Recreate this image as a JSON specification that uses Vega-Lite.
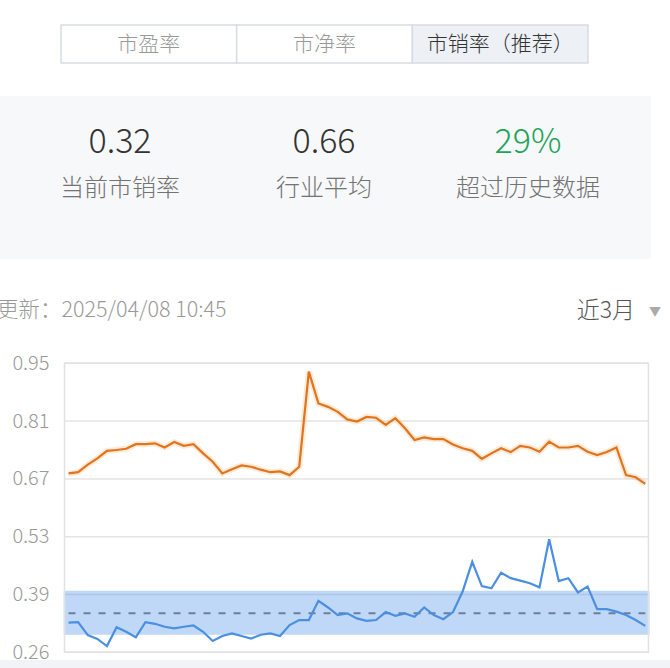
{
  "$schema": "https://vega.github.io/schema/vega-lite/v6.json",
  "width": 670,
  "height": 668,
  "autosize": {"type": "none"},
  "padding": 0,
  "background": "#ffffff",
  "config": {"view": {"stroke": null}, "font": "Noto Sans CJK SC"},
  "datasets": {
    "tabs": [
      {"tab": "市盈率", "selected": false},
      {"tab": "市净率", "selected": false},
      {"tab": "市销率（推荐）", "selected": true}
    ],
    "stats": [
      {"item": "当前市销率", "row": "数值", "text": "0.32"},
      {"item": "行业平均", "row": "数值", "text": "0.66"},
      {"item": "超过历史数据", "row": "数值", "text": "29%"},
      {"item": "当前市销率", "row": "名称", "text": "当前市销率"},
      {"item": "行业平均", "row": "名称", "text": "行业平均"},
      {"item": "超过历史数据", "row": "名称", "text": "超过历史数据"}
    ],
    "band": [{"low": 0.302, "high": 0.407, "mean": 0.353}],
    "ticks": [{"tick": 0.26}, {"tick": 0.398}, {"tick": 0.536}, {"tick": 0.674}, {"tick": 0.812}, {"tick": 0.95}],
    "history": [
      {"day": 0, "行业平均": 0.687, "市销率": 0.331},
      {"day": 1, "行业平均": 0.690, "市销率": 0.332},
      {"day": 2, "行业平均": 0.708, "市销率": 0.301},
      {"day": 3, "行业平均": 0.723, "市销率": 0.292},
      {"day": 4, "行业平均": 0.741, "市销率": 0.275},
      {"day": 5, "行业平均": 0.743, "市销率": 0.320},
      {"day": 6, "行业平均": 0.746, "市销率": 0.309},
      {"day": 7, "行业平均": 0.757, "市销率": 0.296},
      {"day": 8, "行业平均": 0.757, "市销率": 0.332},
      {"day": 9, "行业平均": 0.759, "市销率": 0.328},
      {"day": 10, "行业平均": 0.749, "市销率": 0.321},
      {"day": 11, "行业平均": 0.762, "市销率": 0.317},
      {"day": 12, "行业平均": 0.753, "市销率": 0.321},
      {"day": 13, "行业平均": 0.757, "市销率": 0.324},
      {"day": 14, "行业平均": 0.735, "市销率": 0.309},
      {"day": 15, "行业平均": 0.715, "市销率": 0.287},
      {"day": 16, "行业平均": 0.687, "市销率": 0.299},
      {"day": 17, "行业平均": 0.697, "市销率": 0.305},
      {"day": 18, "行业平均": 0.706, "市销率": 0.299},
      {"day": 19, "行业平均": 0.703, "市销率": 0.293},
      {"day": 20, "行业平均": 0.696, "市销率": 0.302},
      {"day": 21, "行业平均": 0.690, "市销率": 0.305},
      {"day": 22, "行业平均": 0.692, "市销率": 0.299},
      {"day": 23, "行业平均": 0.683, "市销率": 0.325},
      {"day": 24, "行业平均": 0.703, "市销率": 0.337},
      {"day": 25, "行业平均": 0.930, "市销率": 0.337},
      {"day": 26, "行业平均": 0.854, "市销率": 0.383},
      {"day": 27, "行业平均": 0.846, "市销率": 0.367},
      {"day": 28, "行业平均": 0.834, "市销率": 0.349},
      {"day": 29, "行业平均": 0.816, "市销率": 0.353},
      {"day": 30, "行业平均": 0.811, "市销率": 0.341},
      {"day": 31, "行业平均": 0.822, "市销率": 0.335},
      {"day": 32, "行业平均": 0.820, "市销率": 0.337},
      {"day": 33, "行业平均": 0.803, "市销率": 0.356},
      {"day": 34, "行业平均": 0.819, "市销率": 0.347},
      {"day": 35, "行业平均": 0.795, "市销率": 0.353},
      {"day": 36, "行业平均": 0.767, "市销率": 0.345},
      {"day": 37, "行业平均": 0.773, "市销率": 0.367},
      {"day": 38, "行业平均": 0.769, "市销率": 0.349},
      {"day": 39, "行业平均": 0.769, "市销率": 0.339},
      {"day": 40, "行业平均": 0.756, "市销率": 0.356},
      {"day": 41, "行业平均": 0.747, "市销率": 0.405},
      {"day": 42, "行业平均": 0.741, "市销率": 0.476},
      {"day": 43, "行业平均": 0.722, "市销率": 0.418},
      {"day": 44, "行业平均": 0.735, "市销率": 0.413},
      {"day": 45, "行业平均": 0.747, "市销率": 0.450},
      {"day": 46, "行业平均": 0.738, "市销率": 0.437},
      {"day": 47, "行业平均": 0.753, "市销率": 0.431},
      {"day": 48, "行业平均": 0.749, "市销率": 0.425},
      {"day": 49, "行业平均": 0.739, "市销率": 0.415},
      {"day": 50, "行业平均": 0.763, "市销率": 0.530},
      {"day": 51, "行业平均": 0.749, "市销率": 0.430},
      {"day": 52, "行业平均": 0.749, "市销率": 0.437},
      {"day": 53, "行业平均": 0.753, "市销率": 0.403},
      {"day": 54, "行业平均": 0.739, "市销率": 0.417},
      {"day": 55, "行业平均": 0.731, "市销率": 0.363},
      {"day": 56, "行业平均": 0.738, "市销率": 0.363},
      {"day": 57, "行业平均": 0.749, "市销率": 0.357},
      {"day": 58, "行业平均": 0.683, "市销率": 0.349},
      {"day": 59, "行业平均": 0.678, "市销率": 0.337},
      {"day": 60, "行业平均": 0.662, "市销率": 0.323}
    ]
  },
  "resolve": {
    "scale": {"x": "independent", "y": "independent", "color": "independent"},
    "axis": {"x": "independent", "y": "independent"}
  },
  "layer": [
    {
      "data": {"values": [{"panel": "stats"}]},
      "mark": {"type": "rect", "fill": "#f7f8fa"},
      "encoding": {"x": {"value": 0}, "x2": {"value": 651}, "y": {"value": 96}, "y2": {"value": 259}}
    },
    {
      "data": {"values": [{"panel": "footer"}]},
      "mark": {"type": "rect", "fill": "#f1f3f6"},
      "encoding": {"x": {"value": 0}, "x2": {"value": 670}, "y": {"value": 660}, "y2": {"value": 668}}
    },
    {
      "data": {"name": "tabs"},
      "mark": {"type": "rect", "stroke": "#d8dce2", "strokeWidth": 1.5},
      "encoding": {
        "x": {"field": "tab", "type": "nominal", "sort": null, "scale": {"domain": ["市盈率", "市净率", "市销率（推荐）"], "range": [61, 588], "paddingInner": 0, "paddingOuter": 0}, "axis": null},
        "y": {"value": 25},
        "y2": {"value": 63},
        "fill": {"condition": {"test": "datum.selected", "value": "#edf0f5"}, "value": "#ffffff"}
      }
    },
    {
      "data": {"name": "tabs"},
      "mark": {"type": "text", "fontSize": 21, "baseline": "middle", "fontWeight": 300},
      "encoding": {
        "x": {"field": "tab", "type": "nominal", "sort": null, "scale": {"domain": ["市盈率", "市净率", "市销率（推荐）"], "range": [61, 588], "paddingInner": 0, "paddingOuter": 0}, "axis": null},
        "y": {"value": 45},
        "text": {"field": "tab"},
        "color": {"condition": {"test": "datum.selected", "value": "#333333"}, "value": "#999999"}
      }
    },
    {
      "data": {"name": "stats"},
      "mark": {"type": "text", "baseline": "middle", "fontWeight": 300},
      "encoding": {
        "x": {"field": "item", "type": "nominal", "sort": null, "scale": {"domain": ["当前市销率", "行业平均", "超过历史数据"], "range": [18, 630], "paddingInner": 0, "paddingOuter": 0}, "axis": null},
        "y": {"field": "row", "type": "nominal", "scale": {"type": "point", "domain": ["数值", "名称"], "range": [143, 189], "padding": 0}, "axis": null},
        "text": {"field": "text"},
        "size": {"condition": {"test": "datum.row === '名称'", "value": 24}, "value": 34},
        "color": {
          "condition": [
            {"test": "datum.row === '名称'", "value": "#737373"},
            {"test": "datum.item === '超过历史数据'", "value": "#1fa45a"}
          ],
          "value": "#333333"
        }
      }
    },
    {
      "data": {"values": [{"text": "更新：2025/04/08 10:45"}]},
      "mark": {"type": "text", "align": "left", "baseline": "middle", "fontSize": 21.5, "fontWeight": 300, "color": "#999999"},
      "encoding": {"x": {"value": -3}, "y": {"value": 311}, "text": {"field": "text"}}
    },
    {
      "data": {"values": [{"text": "近3月"}]},
      "mark": {"type": "text", "align": "right", "baseline": "middle", "fontSize": 23, "fontWeight": 300, "color": "#555555"},
      "encoding": {"x": {"value": 635}, "y": {"value": 311}, "text": {"field": "text"}}
    },
    {
      "data": {"values": [{"text": "▼"}]},
      "mark": {"type": "text", "align": "center", "baseline": "middle", "fontSize": 12, "color": "#aaaaaa"},
      "encoding": {"x": {"value": 655}, "y": {"value": 312}, "text": {"field": "text"}}
    },
    {
      "resolve": {"scale": {"x": "shared", "y": "shared"}},
      "layer": [
        {
          "data": {"name": "ticks"},
          "mark": {"type": "rule", "stroke": "#e4e4e4", "strokeWidth": 1.5},
          "encoding": {
            "x": {"datum": -0.42, "type": "quantitative", "scale": {"domain": [-0.45, 60.4], "range": [64.2, 649.1], "nice": false, "zero": false}, "axis": null},
            "x2": {"datum": 60.33},
            "y": {
              "field": "tick", "type": "quantitative",
              "scale": {"domain": [0.26, 0.95], "range": [652.3, 363.3], "nice": false, "zero": false},
              "axis": {
                "values": [0.26, 0.398, 0.536, 0.674, 0.812, 0.95],
                "labelExpr": "substring(toString(datum.value) + '000', 0, 4)",
                "grid": false, "domain": false, "ticks": false,
                "labelPadding": 0, "offset": -49, "labelFlush": false,
                "labelFontSize": 20, "labelFontWeight": 300, "labelColor": "#999999", "labelFont": "Noto Sans CJK SC",
                "title": null
              }
            }
          }
        },
        {
          "data": {"name": "band"},
          "mark": {"type": "rect", "fill": "#3f8ae8", "opacity": 0.33},
          "encoding": {
            "x": {"datum": -0.5, "type": "quantitative", "scale": {"domain": [-0.45, 60.4], "range": [64.2, 649.1], "nice": false, "zero": false}, "axis": null},
            "x2": {"datum": 60.45},
            "y": {"field": "low", "type": "quantitative", "scale": {"domain": [0.26, 0.95], "range": [652.3, 363.3], "nice": false, "zero": false}},
            "y2": {"field": "high"}
          }
        },
        {
          "data": {"values": [{"frame": "plot"}]},
          "mark": {"type": "rect", "fill": "transparent", "stroke": "#e2e2e2", "strokeWidth": 1.5},
          "encoding": {
            "x": {"datum": -0.42, "type": "quantitative", "scale": {"domain": [-0.45, 60.4], "range": [64.2, 649.1], "nice": false, "zero": false}, "axis": null},
            "x2": {"datum": 60.33},
            "y": {"datum": 0.26, "type": "quantitative", "scale": {"domain": [0.26, 0.95], "range": [652.3, 363.3], "nice": false, "zero": false}},
            "y2": {"datum": 0.95}
          }
        },
        {
          "data": {"name": "band"},
          "mark": {"type": "rule", "stroke": "#6c7e9b", "strokeWidth": 2, "strokeDash": [7, 8]},
          "encoding": {
            "x": {"datum": 0, "type": "quantitative", "scale": {"domain": [-0.45, 60.4], "range": [64.2, 649.1], "nice": false, "zero": false}, "axis": null},
            "x2": {"datum": 60},
            "y": {"field": "mean", "type": "quantitative", "scale": {"domain": [0.26, 0.95], "range": [652.3, 363.3], "nice": false, "zero": false}}
          }
        },
        {
          "data": {"name": "history"},
          "mark": {"type": "line", "stroke": "#f5a54a", "strokeWidth": 6, "opacity": 0.22},
          "encoding": {
            "x": {"field": "day", "type": "quantitative", "scale": {"domain": [-0.45, 60.4], "range": [64.2, 649.1], "nice": false, "zero": false}, "axis": null},
            "y": {"field": "行业平均", "type": "quantitative", "scale": {"domain": [0.26, 0.95], "range": [652.3, 363.3], "nice": false, "zero": false}}
          }
        },
        {
          "data": {"name": "history"},
          "transform": [{"fold": ["行业平均", "市销率"], "as": ["series", "value"]}],
          "mark": {"type": "line", "strokeWidth": 2.2},
          "encoding": {
            "x": {"field": "day", "type": "quantitative", "scale": {"domain": [-0.45, 60.4], "range": [64.2, 649.1], "nice": false, "zero": false}, "axis": null},
            "y": {"field": "value", "type": "quantitative", "scale": {"domain": [0.26, 0.95], "range": [652.3, 363.3], "nice": false, "zero": false}},
            "color": {"field": "series", "type": "nominal", "scale": {"domain": ["行业平均", "市销率"], "range": ["#e0741f", "#4a8fe0"]}, "legend": null}
          }
        }
      ]
    }
  ]
}
